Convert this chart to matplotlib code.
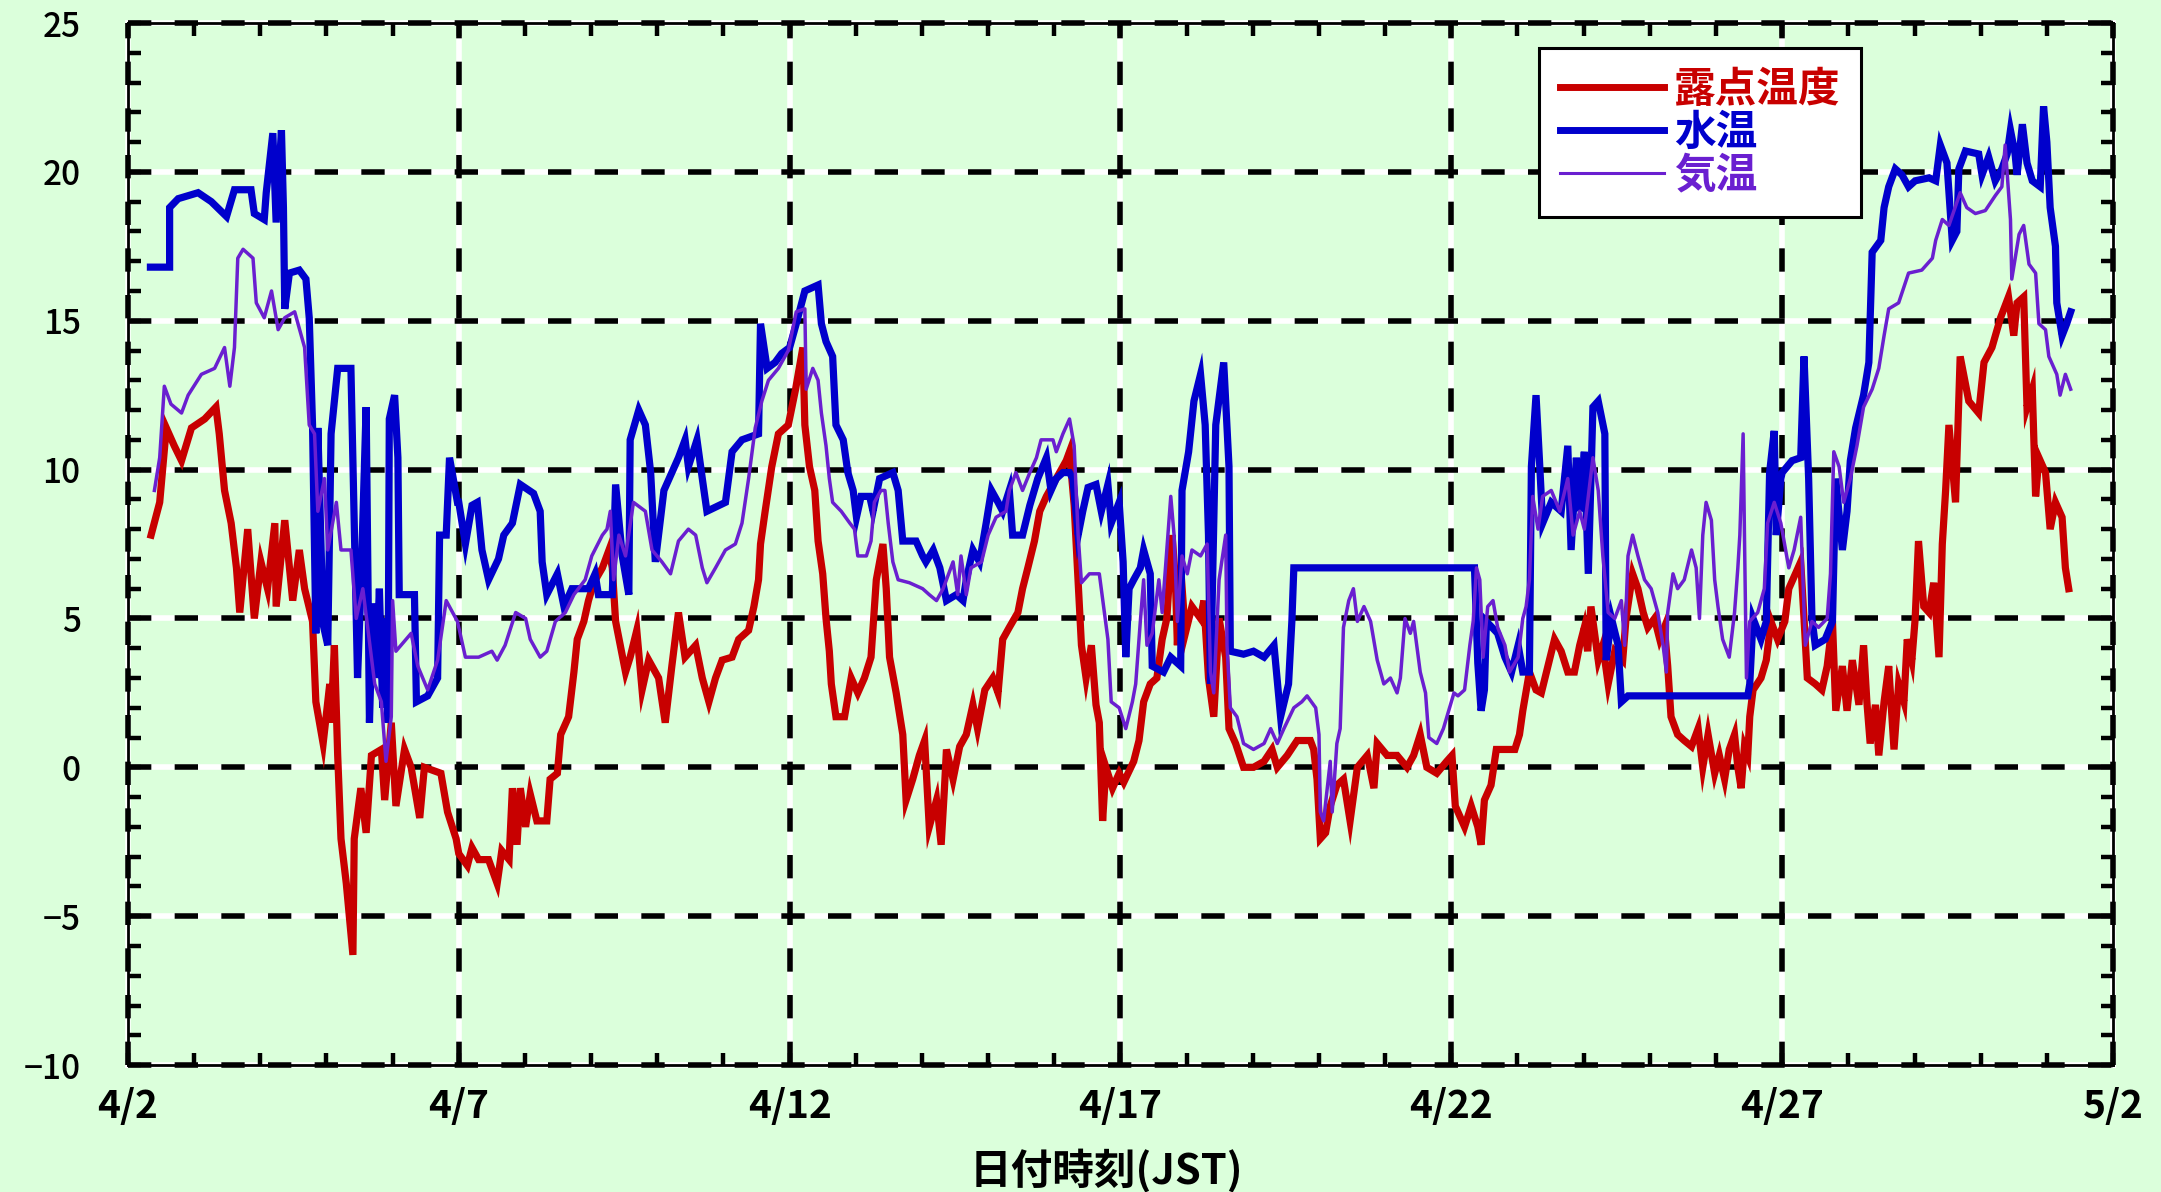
import matplotlib
matplotlib.use("Agg")
import matplotlib.pyplot as plt
from matplotlib.ticker import MultipleLocator

plt.rcParams['font.family'] = ['Noto Sans CJK JP', 'DejaVu Sans']

# ---------------- data (days since 4/2 00:00 JST, degC) ----------------
dew_t = [0.35,0.48,0.58,0.7,0.81,0.96,1.16,1.33,1.38,1.46,1.56,1.64,1.69,1.81,1.91,2.01,2.11,2.22,2.24,2.37,2.49,2.59,2.67,2.79,2.84,2.95,3.05,3.07,3.12,3.17,3.22,3.3,3.4,3.42,3.52,3.6,3.68,3.83,3.88,3.98,4.05,4.18,4.28,4.41,4.48,4.73,4.83,4.96,
         5.0,5.13,5.2,5.3,5.45,5.58,5.65,5.76,5.81,5.88,5.93,6.01,6.08,6.18,6.33,6.38,6.49,6.54,6.66,6.74,6.79,6.89,6.96,7.04,7.17,7.27,7.32,7.37,7.44,7.52,7.59,7.69,7.77,7.87,8.02,8.12,8.22,8.32,8.42,8.58,8.68,8.78,8.88,8.98,9.13,9.23,9.38,9.46,9.53,9.56,9.63,9.73,9.83,9.98,
         10.09,10.2,10.23,10.3,10.38,10.43,10.5,10.55,10.6,10.63,10.7,10.83,10.93,11.03,11.13,11.23,11.31,11.41,11.46,11.51,11.61,11.71,11.76,11.86,11.96,12.04,12.11,12.22,12.29,12.34,12.37,12.47,12.57,12.67,12.77,12.84,12.95,13.07,13.15,13.22,13.32,13.45,13.52,13.6,13.7,13.78,13.88,13.98,14.08,14.18,14.23,14.3,14.36,14.41,14.48,14.56,14.63,14.68,14.73,14.78,14.88,14.98,
         15.05,15.2,15.28,15.35,15.45,15.55,15.63,15.7,15.78,15.83,15.86,15.91,15.98,16.08,16.21,16.26,16.33,16.41,16.49,16.59,16.64,16.74,16.86,17.01,17.17,17.29,17.37,17.52,17.67,17.87,17.92,17.97,18.02,18.1,18.17,18.27,18.37,18.47,18.58,18.73,18.83,18.88,19.03,19.18,19.33,19.43,19.53,19.63,19.78,19.93,20.01,20.06,
         20.2,20.3,20.4,20.45,20.5,20.6,20.68,20.96,21.03,21.08,21.18,21.28,21.36,21.46,21.56,21.66,21.76,21.86,21.94,22.01,22.06,22.11,22.22,22.29,22.37,22.47,22.59,22.64,22.74,22.82,22.9,22.97,23.07,23.15,23.22,23.27,23.32,23.42,23.52,23.63,23.73,23.8,23.88,23.98,24.05,24.13,24.2,24.28,24.33,24.38,24.43,24.48,24.51,24.56,24.68,24.76,24.83,24.93,
         25.04,25.1,25.2,25.28,25.33,25.38,25.5,25.6,25.68,25.76,25.81,25.91,25.98,26.06,26.16,26.23,26.28,26.33,26.41,26.46,26.54,26.61,26.69,26.76,26.84,26.89,26.96,27.01,27.06,27.14,27.22,27.29,27.37,27.42,27.47,27.52,27.62,27.69,27.82,27.97,28.05,28.17,28.3,28.42,28.5,28.55,28.65,28.7,28.78,28.83,28.88,28.98,29.05,29.13,29.23,29.28,29.33]
dew_v = [7.8,8.9,11.4,10.8,10.3,11.4,11.7,12.1,11.2,9.3,8.2,6.7,5.2,8.0,5.0,6.9,6.0,8.2,5.4,8.3,5.6,7.3,6.0,4.9,2.2,0.8,2.8,1.5,4.1,0.4,-2.4,-3.9,-6.3,-2.4,-0.7,-2.2,0.4,0.6,-1.1,1.5,-1.3,0.6,0.0,-1.7,0.0,-0.2,-1.5,-2.4,
         -2.9,-3.3,-2.7,-3.1,-3.1,-3.9,-2.8,-3.1,-0.7,-2.6,-0.7,-2.0,-0.9,-1.8,-1.8,-0.4,-0.2,1.1,1.7,3.2,4.3,4.9,5.6,6.2,6.7,7.3,6.7,4.9,4.1,3.2,3.7,4.6,2.6,3.6,3.0,1.5,3.4,5.2,3.7,4.1,3.0,2.2,3.0,3.6,3.7,4.3,4.6,5.4,6.3,7.5,8.6,10.1,11.2,11.5,
         12.7,14.1,11.5,10.1,9.3,7.6,6.5,5.0,3.9,2.8,1.7,1.7,3.0,2.5,3.0,3.7,6.3,7.5,6.0,3.7,2.5,1.1,-1.1,-0.4,0.4,0.9,-2.0,-1.1,-2.6,-0.7,0.6,-0.4,0.7,1.1,2.1,1.3,2.6,3.0,2.5,4.3,4.7,5.2,6.0,6.7,7.6,8.6,9.1,9.5,9.9,10.3,10.6,8.8,6.2,4.1,3.0,4.1,2.1,1.5,-1.8,0.0,-0.7,-0.2,
         -0.5,0.2,0.9,2.2,2.8,3.0,4.3,5.0,7.8,6.3,4.1,6.7,4.5,5.4,5.0,5.6,3.0,1.7,5.0,3.7,1.3,0.8,0.0,0.0,0.2,0.6,0.0,0.4,0.9,0.9,0.6,-0.4,-2.4,-2.2,-1.3,-0.6,-0.4,-1.8,0.0,0.4,-0.7,0.8,0.4,0.4,0.0,0.4,1.1,0.0,-0.2,0.2,0.4,-1.3,
         -2.0,-1.3,-2.0,-2.6,-1.1,-0.6,0.6,0.6,1.1,1.9,3.2,2.6,2.5,3.4,4.3,3.9,3.2,3.2,4.1,4.7,3.9,5.4,3.6,4.1,2.8,3.9,3.6,5.0,6.5,6.0,5.2,4.7,5.0,4.3,4.7,3.4,1.7,1.1,0.9,0.7,1.3,0.0,1.1,-0.2,0.4,-0.4,0.6,1.1,0.0,-0.7,0.7,0.4,1.7,2.6,3.0,3.6,4.9,4.3,
         4.9,6.0,6.5,6.9,5.0,3.0,2.8,2.6,3.4,4.9,1.9,3.4,1.9,3.6,2.1,4.1,2.2,0.8,2.1,0.4,2.2,3.4,0.6,2.8,2.2,4.3,3.6,5.0,7.6,5.4,5.2,6.2,3.7,7.5,9.3,11.5,8.9,13.8,12.3,11.9,13.6,14.1,15.1,15.8,14.5,15.6,15.8,12.1,12.7,9.1,10.4,9.9,8.0,8.9,8.4,6.7,6.0]

water_t = [0.34,0.63,0.63,0.76,1.06,1.26,1.49,1.61,1.86,1.91,2.06,2.09,2.19,2.24,2.32,2.35,2.37,2.44,2.59,2.69,2.74,2.79,2.84,2.87,2.95,3.02,3.07,3.17,3.37,3.47,3.52,3.6,3.65,3.7,3.75,3.8,3.85,3.9,3.93,3.95,4.03,4.08,4.1,4.33,4.36,4.53,4.68,4.71,4.81,4.86,4.98,
           5.0,5.1,5.2,5.28,5.35,5.45,5.6,5.68,5.81,5.93,6.13,6.23,6.26,6.33,6.49,6.59,6.71,6.96,7.06,7.11,7.32,7.37,7.47,7.57,7.59,7.72,7.82,7.9,7.97,8.1,8.22,8.32,8.42,8.47,8.6,8.68,8.75,9.03,9.13,9.28,9.53,9.56,9.66,9.78,9.88,10.0,
           10.1,10.23,10.43,10.48,10.55,10.65,10.7,10.81,10.88,10.96,11.01,11.08,11.21,11.26,11.36,11.56,11.64,11.71,11.91,12.01,12.06,12.17,12.27,12.37,12.52,12.62,12.67,12.77,12.87,12.97,13.05,13.15,13.22,13.32,13.37,13.52,13.63,13.75,13.88,13.95,14.03,14.13,14.23,14.28,14.36,14.43,14.51,14.63,14.71,14.81,14.86,14.98,
           15.04,15.08,15.13,15.2,15.3,15.35,15.45,15.48,15.65,15.76,15.91,15.93,16.03,16.11,16.21,16.28,16.33,16.36,16.44,16.56,16.64,16.66,16.86,17.01,17.17,17.32,17.42,17.54,17.59,17.62,20.35,
           20.4,20.45,20.5,20.53,20.7,20.81,20.91,21.01,21.08,21.18,21.21,21.28,21.33,21.38,21.51,21.66,21.76,21.81,21.89,21.94,22.01,22.07,22.14,22.22,22.32,22.34,22.42,22.52,22.57,22.67,24.48,24.51,24.56,24.68,24.76,24.81,24.88,24.91,24.98,
           25.0,25.15,25.28,25.33,25.4,25.45,25.5,25.65,25.76,25.81,25.91,25.98,26.03,26.11,26.23,26.31,26.36,26.49,26.54,26.61,26.71,26.81,26.91,27.01,27.22,27.32,27.39,27.49,27.57,27.64,27.67,27.77,27.97,28.02,28.12,28.22,28.32,28.4,28.45,28.52,28.55,28.63,28.7,28.78,28.9,28.95,29.0,29.05,29.13,29.15,29.23,29.3,29.36]
water_v = [16.8,16.8,18.8,19.1,19.3,19.0,18.5,19.4,19.4,18.6,18.4,19.3,21.3,18.3,21.4,18.8,15.4,16.6,16.7,16.4,15.1,11.5,4.5,11.4,4.8,4.1,11.2,13.4,13.4,3.0,6.0,12.1,1.5,5.5,3.0,6.0,2.0,5.0,1.5,11.7,12.5,10.4,5.8,5.8,2.2,2.4,3.0,7.8,7.8,10.4,8.9,
           8.9,7.5,8.8,8.9,7.3,6.3,7.0,7.8,8.2,9.5,9.2,8.6,6.9,5.8,6.5,5.4,6.0,6.0,6.5,5.8,5.8,9.5,7.1,5.8,11.0,12.0,11.5,9.9,6.9,9.3,9.9,10.4,11.0,10.1,11.0,9.7,8.6,8.9,10.6,11.0,11.2,14.9,13.4,13.6,13.9,14.1,
           14.9,16.0,16.2,14.9,14.3,13.8,11.5,11.0,9.9,9.3,8.4,9.1,9.1,8.6,9.7,9.9,9.3,7.6,7.6,7.1,6.9,7.3,6.7,5.6,5.8,5.6,6.3,7.3,6.9,8.2,9.3,8.9,8.6,9.3,7.8,7.8,8.8,9.7,10.4,9.3,9.7,9.9,9.9,9.7,7.8,8.6,9.4,9.5,8.6,9.5,8.2,8.9,
           6.9,3.7,6.0,6.3,6.7,7.3,6.5,3.4,3.2,3.7,3.4,9.3,10.6,12.3,13.2,11.5,7.8,2.8,11.5,13.6,10.1,3.9,3.8,3.9,3.7,4.1,1.7,2.8,4.9,6.7,6.7,
           3.5,1.9,2.6,4.9,4.5,3.7,3.2,4.1,3.2,3.2,10.1,12.5,10.4,8.2,8.9,8.6,10.8,7.3,10.4,8.6,10.6,6.5,12.1,12.3,11.2,3.6,5.0,4.1,2.2,2.4,2.4,2.8,5.0,4.3,4.9,9.9,11.3,7.8,9.7,
           9.9,10.3,10.4,13.8,9.7,5.0,4.1,4.3,4.9,9.7,7.3,8.6,10.3,11.4,12.5,13.6,17.3,17.7,18.8,19.5,20.1,19.9,19.5,19.7,19.8,19.7,20.9,20.3,17.7,18.0,20.1,20.7,20.6,19.9,20.5,19.7,20.1,20.6,21.4,20.6,19.9,21.6,20.3,19.7,19.5,22.2,21.0,18.8,17.5,15.6,14.5,14.9,15.3]

air_t = [0.4,0.48,0.55,0.65,0.81,0.91,1.11,1.31,1.46,1.54,1.61,1.66,1.74,1.89,1.94,2.06,2.17,2.27,2.37,2.52,2.67,2.74,2.82,2.87,2.97,3.02,3.15,3.22,3.37,3.45,3.55,3.73,3.83,3.9,3.98,4.0,4.05,4.28,4.38,4.53,4.68,4.81,4.98,
         5.1,5.3,5.5,5.58,5.7,5.86,6.01,6.08,6.23,6.33,6.46,6.61,6.74,6.91,7.01,7.17,7.24,7.29,7.34,7.42,7.52,7.64,7.82,7.92,8.07,8.2,8.32,8.47,8.58,8.68,8.75,8.88,9.03,9.18,9.28,9.38,9.48,9.58,9.68,9.83,9.98,
         10.1,10.23,10.25,10.35,10.43,10.48,10.55,10.6,10.65,10.78,10.91,10.98,11.03,11.16,11.23,11.28,11.38,11.44,11.49,11.56,11.64,11.81,12.01,12.11,12.22,12.32,12.47,12.54,12.59,12.67,12.74,12.9,13.0,13.12,13.27,13.32,13.42,13.52,13.63,13.73,13.8,13.98,14.03,14.13,14.23,14.3,14.36,14.41,14.53,14.68,14.81,14.86,14.98,
         15.08,15.18,15.23,15.3,15.35,15.4,15.48,15.58,15.63,15.7,15.76,15.81,15.86,15.93,16.01,16.08,16.21,16.31,16.36,16.41,16.49,16.59,16.61,16.66,16.76,16.86,17.01,17.17,17.27,17.37,17.47,17.62,17.74,17.82,17.95,18.0,18.02,18.07,18.17,18.2,18.27,18.32,18.37,18.45,18.52,18.58,18.68,18.78,18.88,18.98,19.08,19.18,19.23,19.3,19.38,19.43,19.53,19.61,19.66,19.78,19.88,19.96,20.04,
         20.1,20.2,20.28,20.33,20.38,20.43,20.48,20.55,20.63,20.7,20.81,20.88,21.01,21.08,21.13,21.18,21.23,21.31,21.38,21.51,21.64,21.76,21.84,21.94,22.01,22.14,22.22,22.29,22.37,22.47,22.57,22.62,22.67,22.74,22.82,22.92,23.02,23.12,23.2,23.25,23.27,23.35,23.42,23.52,23.63,23.7,23.75,23.8,23.85,23.93,23.98,24.03,24.1,24.2,24.28,24.33,24.36,24.41,24.43,24.46,24.51,24.63,24.73,24.78,24.88,24.98,
         25.1,25.18,25.28,25.35,25.45,25.55,25.68,25.73,25.78,25.86,25.93,26.03,26.13,26.23,26.36,26.46,26.54,26.61,26.76,26.91,27.11,27.27,27.32,27.42,27.52,27.69,27.79,27.92,28.07,28.22,28.32,28.37,28.45,28.47,28.58,28.65,28.73,28.83,28.88,28.98,29.03,29.15,29.2,29.28,29.36]
air_v = [9.3,10.4,12.8,12.2,11.9,12.5,13.2,13.4,14.1,12.8,14.1,17.1,17.4,17.1,15.6,15.1,16.0,14.7,15.1,15.3,14.1,11.5,11.2,8.6,9.7,7.3,8.9,7.3,7.3,5.0,6.0,2.8,2.2,0.2,1.7,5.6,3.9,4.5,3.4,2.6,3.6,5.6,4.9,
         3.7,3.7,3.9,3.6,4.1,5.2,5.0,4.3,3.7,3.9,4.9,5.2,5.8,6.3,7.1,7.8,8.0,8.6,6.3,7.8,7.1,8.9,8.6,7.3,6.9,6.5,7.6,8.0,7.8,6.7,6.2,6.7,7.3,7.5,8.2,9.7,11.4,12.3,13.0,13.4,14.0,
         15.3,15.4,12.7,13.4,13.0,11.9,10.8,9.7,8.9,8.6,8.2,8.0,7.1,7.1,7.6,8.9,9.3,9.3,8.2,6.9,6.3,6.2,6.0,5.8,5.6,6.0,6.9,5.8,7.1,5.8,6.7,6.9,7.8,8.4,8.6,9.3,9.9,9.3,9.9,10.4,11.0,11.0,10.6,11.2,11.7,10.8,7.8,6.2,6.5,6.5,4.3,2.2,2.0,
         1.3,2.2,2.8,4.9,6.3,4.1,4.5,6.3,5.2,7.3,9.1,7.8,4.9,7.1,6.5,7.3,7.1,7.5,3.2,2.5,6.3,7.8,4.1,2.0,1.7,0.8,0.6,0.8,1.3,0.8,1.3,2.0,2.2,2.4,2.0,1.1,-1.5,-1.8,0.2,-1.5,0.8,1.3,4.7,5.6,6.0,4.9,5.4,4.9,3.6,2.8,3.0,2.5,3.0,5.0,4.5,4.9,3.2,2.5,1.0,0.8,1.3,1.9,2.5,
         2.4,2.6,4.1,4.9,6.7,6.3,3.7,5.4,5.6,4.7,4.1,3.2,3.7,5.0,5.4,6.3,9.1,8.0,9.1,9.3,8.6,9.7,7.8,8.6,8.0,10.4,9.3,7.1,5.2,5.0,5.6,4.1,7.1,7.8,7.1,6.3,6.0,5.2,4.1,3.2,5.2,6.5,6.0,6.3,7.3,6.7,5.0,7.8,8.9,8.3,6.3,5.4,4.3,3.7,5.2,6.7,7.8,11.2,7.8,3.0,4.9,5.2,6.0,8.2,8.9,8.2,
         6.7,7.3,8.4,4.1,4.9,4.7,5.0,6.5,10.6,10.1,8.9,9.7,10.8,12.1,12.7,13.4,14.5,15.4,15.6,16.6,16.7,17.1,17.7,18.4,18.2,19.3,18.8,18.6,18.7,19.2,19.5,20.9,18.4,16.4,17.9,18.2,16.9,16.6,14.9,14.7,13.8,13.2,12.5,13.2,12.7]

x_tick_pos = [0, 5, 10, 15, 20, 25, 30]
x_tick_labels = ['4/2', '4/7', '4/12', '4/17', '4/22', '4/27', '5/2']
y_ticks = [-10, -5, 0, 5, 10, 15, 20, 25]
y_tick_labels = ['\u221210', '\u22125', '0', '5', '10', '15', '20', '25']
series_names = ['露点温度', '水温', '気温']
x_label = '日付時刻(JST)'

# ---------------- styling ----------------
BG = '#DBFFDB'
C_DEW = '#C80000'
C_WATER = '#0000CC'
C_AIR = '#6A1FD0'

fig = plt.figure(figsize=(21.61, 11.92), dpi=100, facecolor=BG)
ax = fig.add_axes([0.0592, 0.1065, 0.9186, 0.8742])
ax.set_facecolor(BG)

ax.set_xlim(x_tick_pos[0], x_tick_pos[-1])
ax.set_ylim(y_ticks[0], y_ticks[-1])

# dashed black-on-white grid
glw = 4.0
dash = (0, (4.2, 4.2))
for y in y_ticks:
    ax.axhline(y, color='white', lw=glw, zorder=1, clip_on=False)
    ax.axhline(y, color='black', lw=glw, ls=dash, zorder=1.1, clip_on=False)
for x in x_tick_pos:
    ax.axvline(x, color='white', lw=glw, zorder=1, clip_on=False)
    ax.axvline(x, color='black', lw=glw, ls=dash, zorder=1.1, clip_on=False)

l1, = ax.plot(dew_t, dew_v, color=C_DEW, lw=5.2, zorder=3, solid_joinstyle='miter')
l2, = ax.plot(water_t, water_v, color=C_WATER, lw=5.2, zorder=4, solid_joinstyle='miter')
l3, = ax.plot(air_t, air_v, color=C_AIR, lw=2.5, zorder=5)

ax.set_xticks(x_tick_pos)
ax.set_xticklabels(x_tick_labels, fontsize=28, fontweight='bold')
ax.set_yticks(y_ticks)
ax.set_yticklabels(y_tick_labels, fontsize=24, fontweight='medium')
ax.xaxis.set_minor_locator(MultipleLocator(1))
ax.yaxis.set_minor_locator(MultipleLocator(1))
ax.tick_params(which='both', direction='in', top=True, right=True,
               length=9, width=3.2, color='black')
ax.tick_params(axis='x', which='major', pad=16)
ax.tick_params(axis='y', which='major', pad=34)
for s in ax.spines.values():
    s.set_linewidth(2)
    s.set_color('black')

ax.set_xlabel(x_label, fontsize=30, fontweight='bold')
ax.xaxis.set_label_coords(0.493, -0.080)

leg = ax.legend([l1, l2, l3], series_names, loc='upper left',
                bbox_to_anchor=(0.7108, 0.976), borderaxespad=0,
                prop={'size': 30, 'weight': 'bold'},
                handlelength=2.5, handletextpad=0.24, borderpad=0.5,
                labelspacing=0.02, fancybox=False, framealpha=1,
                edgecolor='black', facecolor='white')
leg.get_frame().set_linewidth(2.2)
leg.set_zorder(10)
for txt, c in zip(leg.get_texts(), [C_DEW, C_WATER, C_AIR]):
    txt.set_color(c)
for h, w in zip(leg.get_lines(), [5, 5, 2.2]):
    h.set_linewidth(w)

fig.savefig('out.png', dpi=100, facecolor=BG)
